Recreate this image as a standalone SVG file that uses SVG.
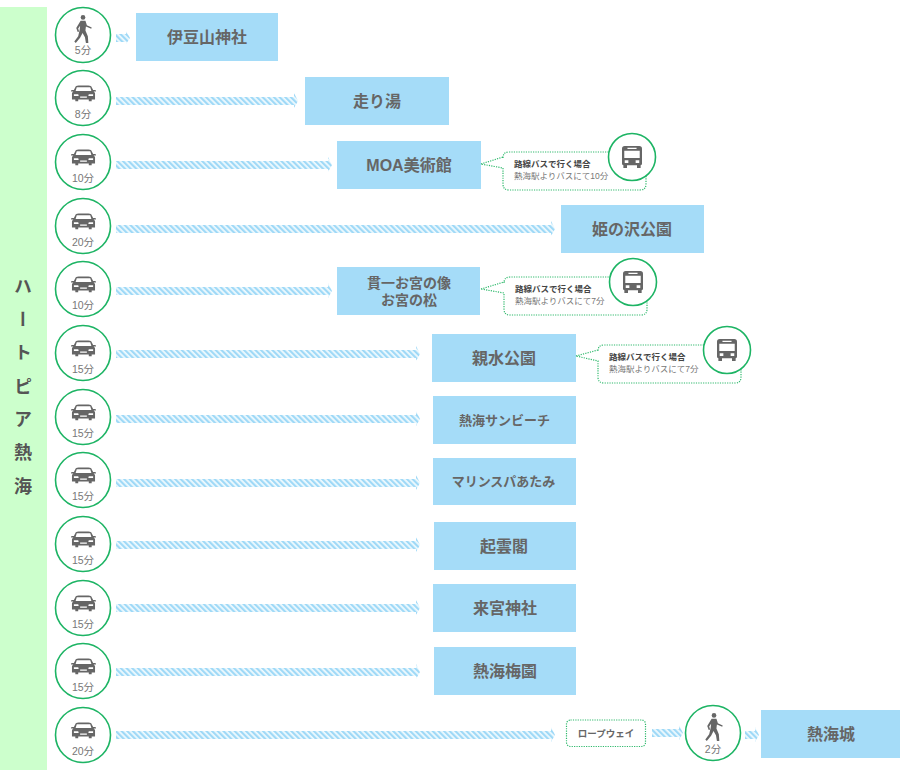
<svg xmlns="http://www.w3.org/2000/svg" xmlns:xlink="http://www.w3.org/1999/xlink" width="900" height="770" viewBox="0 0 900 770">
<style>
text{font-family:"Liberation Sans","Noto Sans CJK JP",sans-serif;fill:#666;text-anchor:middle}
.box{fill:#a5dcf8}
.t{font-size:16px;font-weight:700;fill:#666}
.s{font-size:13px;font-weight:700;fill:#666}
.c{fill:#fff;stroke:#1db464;stroke-width:1.6}
.m{font-size:10.500px;fill:#777}
.d{fill:#fff;stroke:#2fb96c;stroke-width:1.200;stroke-dasharray:1.200 1.200}
.b1{font-size:8.500px;font-weight:700;fill:#444;text-anchor:start}
.b2{font-size:8.500px;fill:#777;text-anchor:start}
.ic{fill:#666}
.a{fill:url(#h)}
</style>
<defs>
<pattern id="h" width="4" height="4" patternUnits="userSpaceOnUse" patternTransform="rotate(-45)">
<rect width="4" height="4" fill="#f0fafe"/><rect width="2.200" height="4" fill="#9fd9f7"/>
</pattern>
<symbol id="car" viewBox="0 0 26 20" overflow="visible" preserveAspectRatio="none">
<path d="M5 1.500Q6 .5 8 .5H18Q20 .5 21 1.500L23 6H25Q26 6 26 7.500H23.500Q25 8.500 25 10V17H21.500V19H18.500V17H7.500V19H4.500V17H1V10Q1 8.500 2.500 7.500H0Q0 6 1 6H3ZM6 2.500 4.800 7H21.200L20 2.500ZM3 11V13H8L7.500 11ZM23 11H18.500L18 13H23ZM9.500 13.500V15H16.500V13.500Z" fill-rule="evenodd" class="ic"/>
</symbol>
<symbol id="walk" viewBox="0 0 20 30" overflow="visible">
<circle cx="9.500" cy="2.500" r="2.400" class="ic"/>
<path d="M7 6H12L13.500 10.500 18.500 13 18 14.200 12.500 12 12 16 14.500 22 15 29H12.500L11.500 23 9 18.500 6.500 23.500 2 29 0.500 27.500 4.500 22 6 15.500 6.500 11 4.500 14 5.500 17 4 17.500 2.500 13.500Z" class="ic"/>
</symbol>
<symbol id="bus" viewBox="0 0 22 24" overflow="visible">
<path d="M3 0H19Q22 0 22 3V19.500Q22 21 20.500 21V24H16.500V21H5.500V24H1.500V21Q0 21 0 19.500V3Q0 0 3 0ZM2.500 5V13H19.500V5ZM6 1.800V3.200H16V1.800ZM3 15.500V18.500H7V15.500ZM15 15.500V18.500H19V15.500Z" fill-rule="evenodd" class="ic"/>
</symbol>
</defs>
<rect x="0" y="7" width="47" height="763" fill="#ccffcc"/>
<text id="side" x="21" y="277" style="writing-mode:vertical-rl;text-anchor:start;font-size:18px;font-weight:700;letter-spacing:15.300px;fill:#555">ハートピア熱海</text>
<g id="connectors">
<path class="a" d="M116 34H126V31L130 38 126 44V42H116Z"/>
<path class="a" d="M116 97H294V93L298 101 294 108V105H116Z"/>
<path class="a" d="M116 161H328V157L332 165 328 172V169H116Z"/>
<path class="a" d="M116 225H551V221L555 229 551 236V233H116Z"/>
<path class="a" d="M116 287H328V283L332 291 328 298V295H116Z"/>
<path class="a" d="M116 350H416V346L420 354 416 361V358H116Z"/>
<path class="a" d="M116 415H416V411L420 419 416 426V423H116Z"/>
<path class="a" d="M116 479H416V475L420 483 416 490V487H116Z"/>
<path class="a" d="M116 541H416V537L420 545 416 552V549H116Z"/>
<path class="a" d="M116 604H416V600L420 608 416 615V612H116Z"/>
<path class="a" d="M116 668H416V664L420 672 416 679V676H116Z"/>
<path class="a" d="M116 731H551V727L555 735 551 742V739H116Z"/>
<path class="a" d="M652 729H679V725L683 733 679 740V737H652Z"/>
<path class="a" d="M745 731H755V727L759 735 755 742V739H745Z"/>
</g>
<g id="n1"><circle class="c" cx="83" cy="35" r="27.500"/><use href="#walk" x="73" y="15" width="21" height="29"/><text class="m" x="83" y="54">5分</text></g>
<g id="n2"><circle class="c" cx="83" cy="98" r="27.500"/><use href="#car" x="71" y="85" width="25" height="17"/><text class="m" x="83" y="118">8分</text></g>
<g id="n3"><circle class="c" cx="83" cy="162" r="27.500"/><use href="#car" x="71" y="149" width="25" height="17"/><text class="m" x="83" y="182">10分</text></g>
<g id="n4"><circle class="c" cx="83" cy="226" r="27.500"/><use href="#car" x="71" y="213" width="25" height="17"/><text class="m" x="83" y="246">20分</text></g>
<g id="n5"><circle class="c" cx="83" cy="289" r="27.500"/><use href="#car" x="71" y="276" width="25" height="17"/><text class="m" x="83" y="309">10分</text></g>
<g id="n6"><circle class="c" cx="83" cy="353" r="27.500"/><use href="#car" x="71" y="340" width="25" height="17"/><text class="m" x="83" y="373">15分</text></g>
<g id="n7"><circle class="c" cx="83" cy="417" r="27.500"/><use href="#car" x="71" y="404" width="25" height="17"/><text class="m" x="83" y="437">15分</text></g>
<g id="n8"><circle class="c" cx="83" cy="480" r="27.500"/><use href="#car" x="71" y="467" width="25" height="17"/><text class="m" x="83" y="500">15分</text></g>
<g id="n9"><circle class="c" cx="83" cy="544" r="27.500"/><use href="#car" x="71" y="531" width="25" height="17"/><text class="m" x="83" y="564">15分</text></g>
<g id="n10"><circle class="c" cx="83" cy="608" r="27.500"/><use href="#car" x="71" y="595" width="25" height="17"/><text class="m" x="83" y="628">15分</text></g>
<g id="n11"><circle class="c" cx="83" cy="671" r="27.500"/><use href="#car" x="71" y="658" width="25" height="17"/><text class="m" x="83" y="691">15分</text></g>
<g id="n12"><circle class="c" cx="83" cy="735" r="27.500"/><use href="#car" x="71" y="722" width="25" height="17"/><text class="m" x="83" y="755">20分</text></g>
<g id="d1"><rect class="box" x="136" y="13" width="142" height="48"/><text class="t" x="207" y="43">伊豆山神社</text></g>
<g id="d2"><rect class="box" x="305" y="77" width="144" height="48"/><text class="t" x="377" y="107">走り湯</text></g>
<g id="d3"><rect class="box" x="337" y="141" width="144" height="48"/><text class="t" x="409" y="171">MOA美術館</text></g>
<g id="d4"><rect class="box" x="561" y="205" width="143" height="48"/><text class="t" x="632" y="235">姫の沢公園</text></g>
<g id="d5"><rect class="box" x="337" y="267" width="143" height="48"/><text x="409" y="288" style="font-size:14px;font-weight:700">貫一お宮の像</text><text x="409" y="305" style="font-size:14px;font-weight:700">お宮の松</text></g>
<g id="d6"><rect class="box" x="432" y="334" width="144" height="48"/><text class="t" x="504" y="364">親水公園</text></g>
<g id="d7"><rect class="box" x="433" y="396" width="143" height="48"/><text class="s" x="504.500" y="425">熱海サンビーチ</text></g>
<g id="d8"><rect class="box" x="433" y="458" width="143" height="47"/><text class="s" x="503.500" y="486">マリンスパあたみ</text></g>
<g id="d9"><rect class="box" x="434" y="522" width="142" height="48"/><text class="t" x="504" y="552">起雲閣</text></g>
<g id="d10"><rect class="box" x="433" y="584" width="143" height="48"/><text class="t" x="505" y="614">来宮神社</text></g>
<g id="d11"><rect class="box" x="434" y="647" width="142" height="48"/><text class="t" x="505" y="677">熱海梅園</text></g>
<g id="d12"><rect class="box" x="761" y="710" width="139" height="48"/><text class="t" x="831" y="740">熱海城</text></g>
<g id="b3"><path class="d" d="M481 164 503 157V158Q503 152 509 152H640Q646 152 646 158V184Q646 190 640 190H509Q503 190 503 184V168Z"/><text class="b1" x="514" y="167">路線バスで行く場合</text><text class="b2" x="514" y="179">熱海駅よりバスにて10分</text><circle class="c" cx="632" cy="157" r="23.500"/><use href="#bus" x="622" y="146" width="20" height="22"/></g>
<g id="b5"><path class="d" d="M481 289 504 282V283Q504 277 510 277H641Q647 277 647 283V309Q647 315 641 315H510Q504 315 504 309V293Z"/><text class="b1" x="515" y="292">路線バスで行く場合</text><text class="b2" x="515" y="304">熱海駅よりバスにて7分</text><circle class="c" cx="633" cy="282" r="23.500"/><use href="#bus" x="623" y="271" width="20" height="22"/></g>
<g id="b6"><path class="d" d="M576 356 598 350V351Q598 345 604 345H735Q741 345 741 351V377Q741 383 735 383H604Q598 383 598 377V361Z"/><text class="b1" x="609" y="360">路線バスで行く場合</text><text class="b2" x="609" y="372">熱海駅よりバスにて7分</text><circle class="c" cx="727" cy="350" r="23.500"/><use href="#bus" x="717" y="339" width="20" height="22"/></g>
<g id="r"><rect class="d" x="566.500" y="720" width="79" height="26.500" rx="4"/><text x="606" y="737" style="font-size:9.500px;font-weight:700">ロープウェイ</text></g>
<g id="n13"><circle class="c" cx="713" cy="733" r="27.500"/><use href="#walk" x="704" y="713" width="21" height="29"/><text class="m" x="713" y="753">2分</text></g>
</svg>
